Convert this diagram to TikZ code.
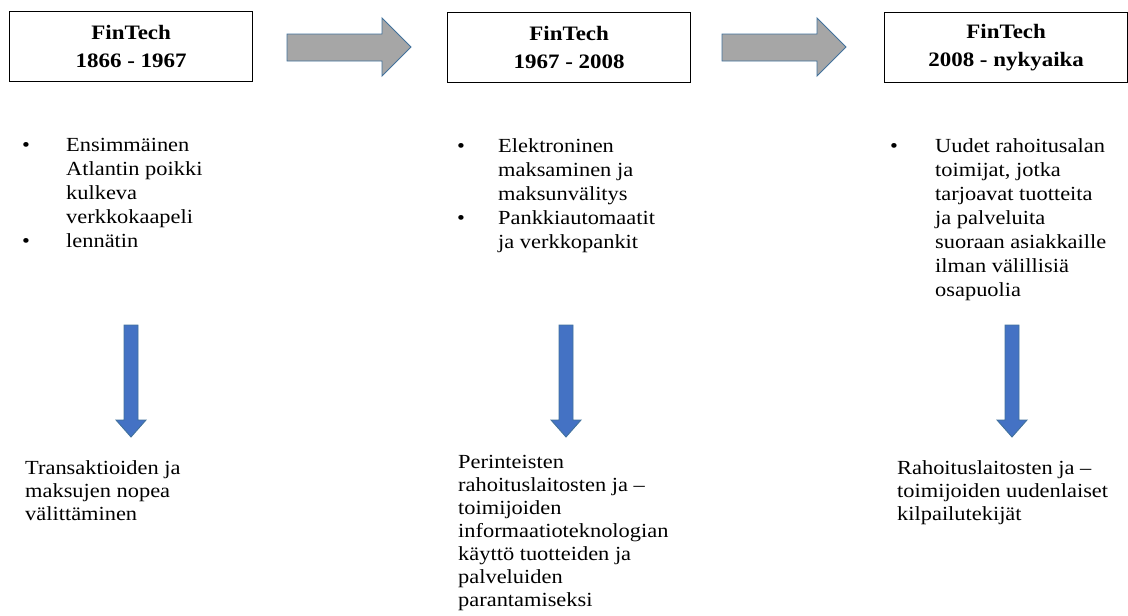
\documentclass[tikz,border=0pt]{standalone}
\usepackage{fontspec}
\setmainfont{Liberation Serif}[FakeStretch=1.12]
\newcommand{\bl}[1]{\makebox[#1][l]{\textbullet}}
\newcommand{\ind}[1]{\hspace*{#1}}
\begin{document}
\begin{tikzpicture}[x=1pt,y=-1pt,
  period/.style={draw=black, line width=1.3pt, minimum width=243pt,
    minimum height=70pt, anchor=north west, align=center, inner sep=0pt,
    font=\bfseries\fontsize{20.5}{28}\selectfont},
  body/.style={anchor=north west, align=left, inner sep=0pt,
    font=\fontsize{20}{24}\selectfont},
  result/.style={body, font=\fontsize{20}{23}\selectfont},
  steparrow/.style={fill=black!35, draw=edgeblue, line width=0.9pt},
  downarrow/.style={fill=arrowblue, draw=edgeblue, line width=0.9pt}
]
\definecolor{arrowblue}{HTML}{4472C4}
\definecolor{edgeblue}{HTML}{41719C}
\useasboundingbox (0,0) rectangle (1128,616);

% period boxes
\node[period] (p1) at (9,11) {FinTech\\1866 - 1967};
\node[period] (p2) at (447,12) {FinTech\\1967 - 2008};
\node[period] (p3) at (884,12) {FinTech\\2008 - nykyaika};

% block arrows between the periods
\foreach \dx/\nm in {0/a1, 435/a2} {
  \begin{scope}[xshift=\dx]
    \coordinate (\nm) at (287,47);
    \draw[steparrow] (287,34) -- (382,34) -- (382,18) -- (411,47)
      -- (382,76) -- (382,61) -- (287,61) -- cycle;
  \end{scope}
}

% events of each period
\node[body] (e1) at (22,138) {\bl{44pt}Ensimmäinen\\ \ind{44pt}Atlantin poikki\\
  \ind{44pt}kulkeva\\ \ind{44pt}verkkokaapeli\\ \bl{44pt}lennätin};
\node[body] (e2) at (457,138) {\bl{41pt}Elektroninen\\ \ind{41pt}maksaminen ja\\
  \ind{41pt}maksunvälitys\\ \bl{41pt}Pankkiautomaatit\\ \ind{41pt}ja verkkopankit};
\node[body] (e3) at (890,138) {\bl{45pt}Uudet rahoitusalan\\ \ind{45pt}toimijat, jotka\\
  \ind{45pt}tarjoavat tuotteita\\ \ind{45pt}ja palveluita\\ \ind{45pt}suoraan asiakkaille\\
  \ind{45pt}ilman välillisiä\\ \ind{45pt}osapuolia};

% downward arrows
\foreach \dx/\nm in {0/d1, 435/d2, 881/d3} {
  \begin{scope}[xshift=\dx]
    \coordinate (\nm) at (131,325);
    \draw[downarrow]
      (124,325) -- (138,325) -- (138,420) -- (146,420) -- (131,437)
      -- (116,420) -- (124,420) -- cycle;
  \end{scope}
}

% consequences
\node[result] (r1) at (25,460) {Transaktioiden ja\\maksujen nopea\\välittäminen};
\node[result] (r2) at (458,455) {Perinteisten\\rahoituslaitosten ja –\\toimijoiden\\
  informaatioteknologian\\käyttö tuotteiden ja\\palveluiden\\parantamiseksi};
\node[result] (r3) at (897,460) {Rahoituslaitosten ja –\\toimijoiden uudenlaiset\\kilpailutekijät};
\end{tikzpicture}
\end{document}
